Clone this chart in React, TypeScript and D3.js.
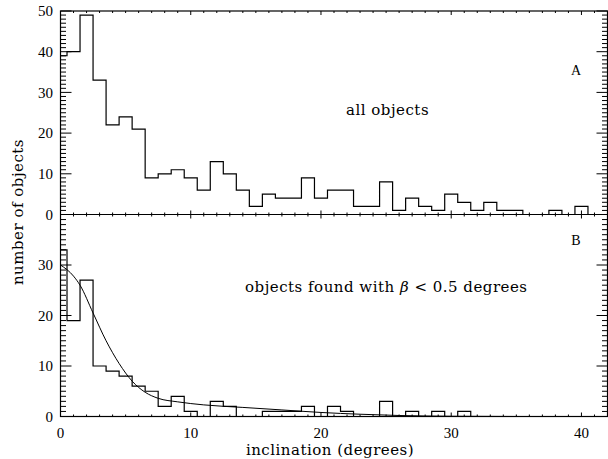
import React from "react";
import * as d3 from "d3";

// Histogram counts, one bin per degree (bin centred on integer inclination)
const binCenters: number[] = d3.range(0, 42);
const allObjects: number[] = [39, 40, 49, 33, 22, 24, 21, 9, 10, 11, 9, 6, 13, 10, 6, 2, 5, 4, 4, 9, 4, 6, 6, 2, 2, 8, 1, 4, 2, 1, 5, 3, 1, 3, 1, 1, 0, 0, 1, 0, 2, 0];
const lowBeta: number[] = [33, 19, 27, 10, 9, 8, 6, 5, 2, 4, 1, 0, 3, 2, 0, 0, 1, 1, 1, 2, 0, 2, 1, 0, 0, 3, 0, 1, 0, 1, 0, 1, 0, 0, 0, 0, 0, 0, 0, 0, 0, 0];
// fitted curve in panel B (x in degrees, y in counts)
const fitX: number[] = [0, 1, 1.5, 2.5, 3.5, 4.5, 5.5, 6.5, 7.5, 9, 11, 14, 17, 20, 23, 26, 30, 35, 42];
const fitY: number[] = [30, 27.8, 26, 20.5, 15, 10.5, 7, 4.8, 3.6, 2.9, 2.3, 1.8, 1.3, 0.8, 0.45, 0.2, 0.05, 0, 0];

const xTicks: number[] = [0, 10, 20, 30, 40];
const yTicksTop: number[] = [0, 10, 20, 30, 40, 50];
const yTicksBottom: number[] = [0, 10, 20, 30];

const W = 608;
const H = 459;
const L = 60.5;
const R = 607.5;
const T = 11;
const MID = 214.5;
const B = 416.5;

const x = d3.scaleLinear().domain([0, 42]).range([L, R]);
const yTop = d3.scaleLinear().domain([0, 50]).range([MID, T]);
const yBot = d3.scaleLinear().domain([0, 40]).range([B, MID]);

const tickFont = "'Liberation Serif', serif";
const textFont = "'DejaVu Serif', serif";

function Ticks({ y, top, bottom, ymax }: { y: d3.ScaleLinear<number, number>; top: number; bottom: number; ymax: number }) {
  const els: React.ReactNode[] = [];
  for (let v = 0; v <= 42; v++) {
    const major = v % 10 === 0;
    const len = major ? 4 : 2;
    const px = x(v);
    els.push(<line key={"xb" + v} x1={px} x2={px} y1={bottom} y2={bottom - len} />);
    els.push(<line key={"xt" + v} x1={px} x2={px} y1={top} y2={top + len} />);
  }
  for (let v = 0; v <= ymax; v++) {
    const major = v % 10 === 0;
    const len = major ? 11 : 5.5;
    const py = y(v);
    els.push(<line key={"yl" + v} x1={L} x2={L + len} y1={py} y2={py} />);
    els.push(<line key={"yr" + v} x1={R} x2={R - len} y1={py} y2={py} />);
  }
  return <g stroke="#000" strokeWidth={1}>{els}</g>;
}

export default function App() {
  const stepTop = d3
    .line<number>()
    .x((_, i) => x(binCenters[i]))
    .y((d) => yTop(d))
    .curve(d3.curveStep)(allObjects) as string;
  const stepBot = d3
    .line<number>()
    .x((_, i) => x(binCenters[i]))
    .y((d) => yBot(d))
    .curve(d3.curveStep)(lowBeta) as string;
  const fit = d3
    .line<number>()
    .x((_, i) => x(fitX[i]))
    .y((d) => yBot(d))
    .curve(d3.curveMonotoneX)(fitY) as string;

  return (
    <svg width={W} height={H} style={{ position: "absolute", left: 0, top: 0, background: "#fff" }}>
      <rect x={0} y={0} width={W} height={H} fill="#fff" />
      <Ticks y={yTop} top={T} bottom={MID} ymax={50} />
      <Ticks y={yBot} top={MID} bottom={B} ymax={40} />
      <rect x={L} y={T} width={R - L} height={B - T} fill="none" stroke="#000" strokeWidth={1.2} />
      <line x1={L} x2={R} y1={MID} y2={MID} stroke="#000" strokeWidth={1.2} />
      <path d={stepTop} fill="none" stroke="#000" strokeWidth={1.2} />
      <path d={stepBot} fill="none" stroke="#000" strokeWidth={1.2} />
      <path d={fit} fill="none" stroke="#000" strokeWidth={1} />

      <g fontFamily={tickFont} fontSize={15} fill="#000">
        {yTicksTop.map((v) => (
          <text key={"lt" + v} x={53} y={yTop(v)} dy="0.35em" textAnchor="end">{v}</text>
        ))}
        {yTicksBottom.map((v) => (
          <text key={"lb" + v} x={53} y={yBot(v)} dy="0.35em" textAnchor="end">{v}</text>
        ))}
        {xTicks.map((v) => (
          <text key={"lx" + v} x={x(v)} y={438} textAnchor="middle">{v}</text>
        ))}
      </g>

      <g fontFamily={textFont} fontSize={15} fill="#000" letterSpacing={0.5}>
        <text x={330} y={455} textAnchor="middle">inclination (degrees)</text>
        <text transform="translate(23,212) rotate(-90)" textAnchor="middle">number of objects</text>
        <text x={346} y={115}>all objects</text>
        <text x={245} y={292}>
          objects found with <tspan fontStyle="italic">β</tspan> &lt; 0.5 degrees
        </text>
      </g>
      <g fontFamily={tickFont} fontSize={14} fill="#000" textAnchor="middle">
        <text x={576} y={75}>A</text>
        <text x={576} y={245}>B</text>
      </g>
    </svg>
  );
}
